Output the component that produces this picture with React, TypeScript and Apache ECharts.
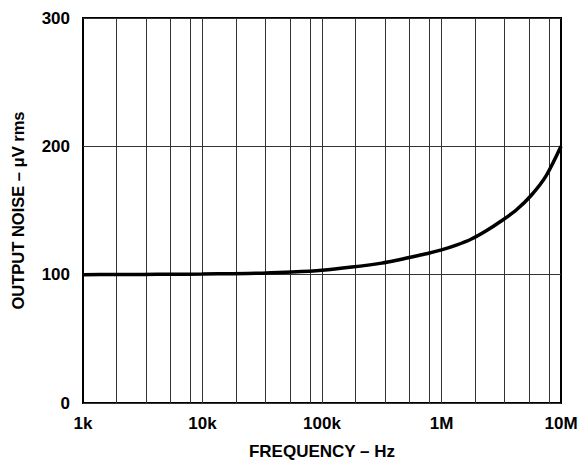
import React, { useEffect, useRef } from "react";
import * as echarts from "echarts";

const freqHz = [1000, 1780, 3160, 5620, 10000, 17800, 31600, 56200, 100000, 178000, 316000, 422000, 562000, 750000, 1000000, 1330000, 1780000, 2370000, 3160000, 4220000, 5620000, 7500000, 10000000];
const noiseUv = [100, 100.1, 100.2, 100.3, 100.5, 100.8, 101.2, 102, 103.4, 105.9, 109, 111.2, 113.8, 116.3, 119.3, 123, 127.8, 134.2, 141.8, 150.4, 161.7, 177, 200];
const decadeStarts = [1000, 10000, 100000, 1000000];
const minorMultipliers = [1.91, 3.37, 5.41, 7.95];
const xTickLabels: Record<number, string> = { 1000: "1k", 10000: "10k", 100000: "100k", 1000000: "1M", 10000000: "10M" };
const yTicks = [0, 100, 200, 300];

const FONT = "'Liberation Sans', Arial, Helvetica, sans-serif";

export default function App() {
  const ref = useRef<HTMLDivElement>(null);
  useEffect(() => {
    if (!ref.current) return;
    const chart = echarts.init(ref.current, null, { renderer: "svg" });
    const vLines: { xAxis: number }[] = [];
    decadeStarts.forEach((d, i) => {
      if (i > 0) vLines.push({ xAxis: d });
      minorMultipliers.forEach((m) => vLines.push({ xAxis: d * m }));
    });
    chart.setOption({
      animation: false,
      backgroundColor: "#fff",
      grid: {
        left: 83,
        right: 20,
        top: 18,
        bottom: 57,
        show: true,
        borderColor: "#000",
        borderWidth: 2,
        backgroundColor: "transparent",
        outerBoundsMode: "none",
        containLabel: false,
      },
      xAxis: {
        type: "log",
        min: 1000,
        max: 10000000,
        logBase: 10,
        name: "FREQUENCY – Hz",
        nameLocation: "middle",
        nameGap: 40,
        nameTextStyle: { fontFamily: FONT, fontWeight: "bold", fontSize: 17, lineHeight: 16, color: "#000" },
        axisLine: { show: false },
        axisTick: { show: false },
        splitLine: { show: false },
        axisLabel: {
          fontFamily: FONT,
          fontWeight: "bold",
          fontSize: 17,
          color: "#000",
          margin: 12,
          formatter: (v: number) => xTickLabels[Math.round(v)] ?? "",
        },
      },
      yAxis: {
        type: "value",
        min: yTicks[0],
        max: yTicks[yTicks.length - 1],
        interval: 100,
        name: "OUTPUT NOISE – μV rms",
        nameLocation: "middle",
        nameGap: 57,
        nameRotate: 90,
        nameTextStyle: { fontFamily: FONT, fontWeight: "bold", fontSize: 16.5, color: "#000" },
        axisLine: { show: false },
        axisTick: { show: false },
        splitLine: { show: true, lineStyle: { color: "#333", width: 1 } },
        axisLabel: { fontFamily: FONT, fontWeight: "bold", fontSize: 17, color: "#000", margin: 13 },
      },
      series: [
        {
          type: "line",
          data: freqHz.map((f, i) => [f, noiseUv[i]]),
          smooth: 0.3,
          showSymbol: false,
          lineStyle: { color: "#000", width: 3.5 },
          z: 5,
          markLine: {
            silent: true,
            symbol: "none",
            label: { show: false },
            lineStyle: { color: "#333", width: 1, type: "solid" },
            data: vLines,
            z: 1,
          },
        },
      ],
    });
    return () => chart.dispose();
  }, []);
  return <div ref={ref} style={{ position: "absolute", left: 0, top: 0, width: 581, height: 460 }} />;
}
